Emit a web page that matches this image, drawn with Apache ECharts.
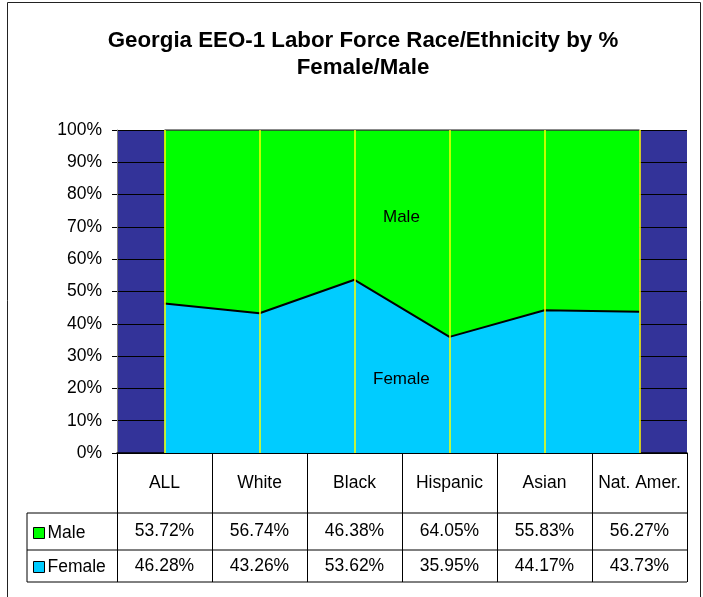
<!DOCTYPE html>
<html>
<head>
<meta charset="utf-8">
<script src="https://cdn.jsdelivr.net/npm/echarts@6/dist/echarts.min.js"></script>
<style>html,body{margin:0;padding:0;background:#fff}#c{width:703px;height:597px}</style>
</head>
<body>
<div id="c"></div>
<script>
const categories = ['ALL', 'White', 'Black', 'Hispanic', 'Asian', 'Nat. Amer.'];
const male = [53.72, 56.74, 46.38, 64.05, 55.83, 56.27];
const female = [46.28, 43.26, 53.62, 35.95, 44.17, 43.73];
const yTicks = [0, 10, 20, 30, 40, 50, 60, 70, 80, 90, 100];

const FONT = '"Liberation Sans", Arial, sans-serif';
const chart = echarts.init(document.getElementById('c'), null, {renderer: 'canvas'});

const gridL = 117, gridR = 687, gridT = 130, gridB = 453;
const rowMale = 513, rowFemale = 550, rowEnd = 582, tableLeft = 27;
const TF = 17.5;

const option = {
  animation: false,
  backgroundColor: '#fff',
  title: {
    text: 'Georgia EEO-1 Labor Force Race/Ethnicity by %\nFemale/Male',
    left: 358, top: 22, textAlign: 'center',
    textStyle: {fontFamily: FONT, fontSize: 22.3, fontWeight: 'bold', color: '#000', lineHeight: 27}
  },
  legend: {
    data: ['Male', 'Female'],
    orient: 'vertical',
    left: 28, top: 519,
    icon: 'rect', itemWidth: 11, itemHeight: 11, itemGap: 16,
    textStyle: {fontFamily: FONT, fontSize: TF, color: '#000', padding: [0, 0, 0, -2]},
    itemStyle: {borderColor: '#000', borderWidth: 1},
    selectedMode: false
  },
  grid: {left: gridL, right: 703 - gridR, top: gridT, bottom: 597 - gridB,
    show: true, backgroundColor: '#333399', borderWidth: 0},
  xAxis: {
    type: 'category', data: categories, boundaryGap: true,
    axisLine: {show: true, lineStyle: {color: '#000', width: 1.5}},
    axisTick: {show: true, length: rowEnd - gridB, lineStyle: {color: '#000', width: 1}},
    axisLabel: {
      margin: 0, interval: 0,
      formatter: (v, i) => `{h|${v}}\n{m|${male[i].toFixed(2)}%}\n{f|${female[i].toFixed(2)}%}`,
      rich: {
        h: {fontFamily: FONT, fontSize: TF, color: '#000', lineHeight: rowMale - gridB, height: rowMale - gridB},
        m: {fontFamily: FONT, fontSize: TF, color: '#000', lineHeight: rowFemale - rowMale, height: rowFemale - rowMale},
        f: {fontFamily: FONT, fontSize: TF, color: '#000', lineHeight: rowEnd - rowFemale, height: rowEnd - rowFemale}
      }
    },
    splitLine: {show: false}
  },
  yAxis: {
    type: 'value', min: yTicks[0], max: yTicks[yTicks.length - 1], interval: 10,
    axisLine: {show: true, lineStyle: {color: '#808080'}},
    axisTick: {show: true, length: 5, lineStyle: {color: '#000'}},
    axisLabel: {formatter: '{value}%', margin: 15, fontFamily: FONT, fontSize: 17.5, color: '#000'},
    splitLine: {show: true, lineStyle: {color: '#000', width: 1}}
  },
  series: [
    {
      name: 'Female', type: 'line', stack: 'total', data: female,
      symbol: 'none', showSymbol: false,
      itemStyle: {color: '#00CCFF'},
      lineStyle: {color: '#000', width: 2},
      areaStyle: {color: '#00CCFF', opacity: 1},
      z: 2
    },
    {
      name: 'Male', type: 'line', stack: 'total', data: male,
      symbol: 'none', showSymbol: false,
      itemStyle: {color: '#00FF00'},
      lineStyle: {color: '#333', width: 1.5},
      areaStyle: {color: '#00FF00', opacity: 1},
      z: 1,
      markLine: {
        silent: true, symbol: 'none', label: {show: false},
        lineStyle: {color: '#FFFF00', width: 1.5, type: 'solid'},
        data: categories.map(c => ({xAxis: c}))
      }
    }
  ],
  graphic: [
    {type: 'rect', shape: {x: 7.5, y: 2.5, width: 693, height: 600}, style: {fill: null, stroke: '#222', lineWidth: 1}, silent: true},
    {type: 'line', shape: {x1: tableLeft, y1: rowMale, x2: gridR, y2: rowMale}, style: {stroke: '#000', lineWidth: 1}},
    {type: 'line', shape: {x1: tableLeft, y1: rowFemale, x2: gridR, y2: rowFemale}, style: {stroke: '#000', lineWidth: 1}},
    {type: 'line', shape: {x1: tableLeft, y1: rowEnd, x2: gridR, y2: rowEnd}, style: {stroke: '#000', lineWidth: 1}},
    {type: 'line', shape: {x1: tableLeft, y1: rowMale, x2: tableLeft, y2: rowEnd}, style: {stroke: '#000', lineWidth: 1}},
    {type: 'text', left: 383, top: 209, style: {text: 'Male', font: '17px ' + FONT, fill: '#000'}, z: 100},
    {type: 'text', left: 373, top: 371, style: {text: 'Female', font: '17px ' + FONT, fill: '#000'}, z: 100}
  ]
};
chart.setOption(option);
</script>
</body>
</html>
